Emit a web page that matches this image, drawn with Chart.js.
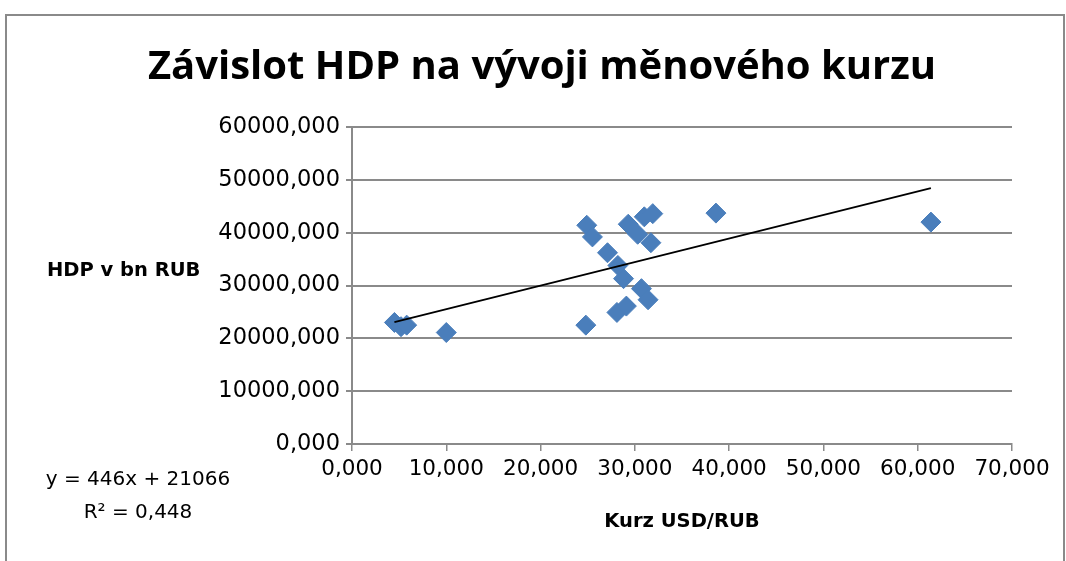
<!DOCTYPE html>
<html>
<head>
<meta charset="utf-8">
<script src="https://cdn.jsdelivr.net/npm/chart.js@4"></script>
<style>
    body { margin: 0; background: #fff; }
    #wrap { position: relative; width: 1066px; height: 561px; overflow: hidden; }
    #frame { position: absolute; left: 5px; top: 14px; width: 1056px; height: 600px; border: 2px solid #8a8a8a; }
    #graf { position: absolute; left: 0; top: 0; }
</style>
</head>
<body>
<div id="wrap">
    <div id="frame"></div>
    <canvas id="graf" width="1066" height="561"></canvas>
</div>
<script>
// Kurz USD/RUB (x) a HDP v bn RUB (y)
const kurz = [4.5, 5.2, 5.8, 10.0, 24.8, 24.9, 25.5, 27.1, 28.1, 28.2, 28.8, 29.1, 29.3, 30.3, 30.7, 31.0, 31.4, 31.7, 31.9, 38.6, 61.4];
const hdp = [23000, 22200, 22500, 21100, 22500, 41400, 39200, 36200, 24900, 33800, 31300, 26100, 41600, 39700, 29400, 43000, 27300, 38100, 43600, 43700, 42000];

const xTicks = [0, 10, 20, 30, 40, 50, 60, 70];
const yTicks = [0, 10000, 20000, 30000, 40000, 50000, 60000];

// regresni primka z grafu
const sklon = 446;
const posun = 21066;
const r2 = '0,448';

const nadpis = 'Závislot HDP na vývoji měnového kurzu';
const osaX = 'Kurz USD/RUB';
const osaY = 'HDP v bn RUB';

const body = kurz.map((k, i) => ({ x: k, y: hdp[i] }));
const xMin = Math.min(...kurz);
const xMax = Math.max(...kurz);
const primka = [
    { x: xMin, y: sklon * xMin + posun },
    { x: xMax, y: sklon * xMax + posun }
];

const cislo = v => Number(v).toFixed(3).replace('.', ',');
const pismo = 'DejaVu Sans';
const seda = '#8a8a8a';

const popisky = {
    id: 'popisky',
    afterDraw(chart) {
        const ctx = chart.ctx;
        ctx.save();
        ctx.fillStyle = '#000';
        ctx.textBaseline = 'middle';

        ctx.font = 'bold 40px "Open Sans"';
        ctx.textAlign = 'center';
        ctx.fillText(nadpis, 542, 68);

        ctx.font = 'bold 19.5px ' + pismo;
        ctx.textAlign = 'left';
        ctx.fillText(osaY, 47, 271);

        ctx.textAlign = 'center';
        ctx.fillText(osaX, 682, 522);

        ctx.font = '20px ' + pismo;
        ctx.fillText('y = ' + sklon + 'x + ' + posun, 138, 480);
        ctx.fillText('R² = ' + r2, 138, 513);
        ctx.restore();
    }
};

new Chart(document.getElementById('graf'), {
    type: 'scatter',
    data: {
        datasets: [{
            type: 'line',
            data: primka,
            borderColor: '#000',
            borderWidth: 1.8,
            pointRadius: 0,
            fill: false,
            order: 0
        }, {
            data: body,
            pointStyle: 'rectRot',
            pointRadius: 10,
            backgroundColor: '#4a7ebb',
            borderColor: '#4a7ebb',
            borderWidth: 1,
            order: 1
        }]
    },
    options: {
        responsive: false,
        animation: false,
        layout: { padding: { left: 0, right: 54, top: 127, bottom: 0 } },
        plugins: { legend: { display: false }, tooltip: { enabled: false } },
        scales: {
            x: {
                type: 'linear',
                min: 0,
                max: 70,
                afterBuildTicks: s => { s.ticks = xTicks.map(v => ({ value: v })); },
                afterFit: s => { s.height = 117; },
                ticks: { callback: cislo, color: '#000', font: { family: pismo, size: 21.5 }, padding: 6, maxRotation: 0 },
                grid: { drawOnChartArea: false, color: seda, lineWidth: 1.5, tickLength: 7 },
                border: { color: seda, width: 2 }
            },
            y: {
                min: 0,
                max: 60000,
                afterBuildTicks: s => { s.ticks = yTicks.map(v => ({ value: v })); },
                afterFit: s => { s.width = 352; },
                ticks: { callback: cislo, color: '#000', font: { family: pismo, size: 22.5 }, padding: 6 },
                grid: { color: seda, lineWidth: 2, tickLength: 6 },
                border: { color: seda, width: 2 }
            }
        }
    },
    plugins: [popisky]
});
</script>
</body>
</html>
